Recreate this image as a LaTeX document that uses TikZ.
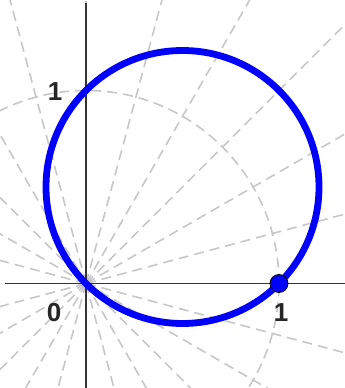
\documentclass[tikz,border=0pt]{standalone}
\usepackage{fontspec}
\setmainfont{Liberation Sans}
\begin{document}
\begin{tikzpicture}[x=1pt,y=1pt,
  guide/.style={draw=black!22, line width=1.6pt, dash pattern=on 10pt off 6pt},
  axis/.style={draw=black!80, line width=1.9pt},
  curve/.style={draw=blue, line width=6.8pt},
  lab/.style={font=\fontsize{26}{26}\selectfont\bfseries, text=black!85, inner sep=0pt}]
\useasboundingbox (-86,-104.5) rectangle (259,283.5);
\begin{scope}
\clip (-86,-104.5) rectangle (259,283.5);
\foreach \a in {15,30,...,165} \draw[guide] (0,0) -- (\a:420) (0,0) -- (\a:-420);
\draw[guide] (0,0) circle (193);
\end{scope}
\draw[axis] (-81,0) -- (259,0);
\draw[axis] (0,-104.5) -- (0,280.5);
\draw[curve] (96.5,96.5) circle (136.5);
\node[circle, fill=blue, draw=black, line width=0.8pt, minimum size=18pt, inner sep=0pt] (p) at (193,0) {};
\node[lab] (o) at (-32,-29.5) {0};
\node[lab] (onex) at (195,-29.5) {1};
\node[lab] (oney) at (-31,191.5) {1};
\end{tikzpicture}
\end{document}
